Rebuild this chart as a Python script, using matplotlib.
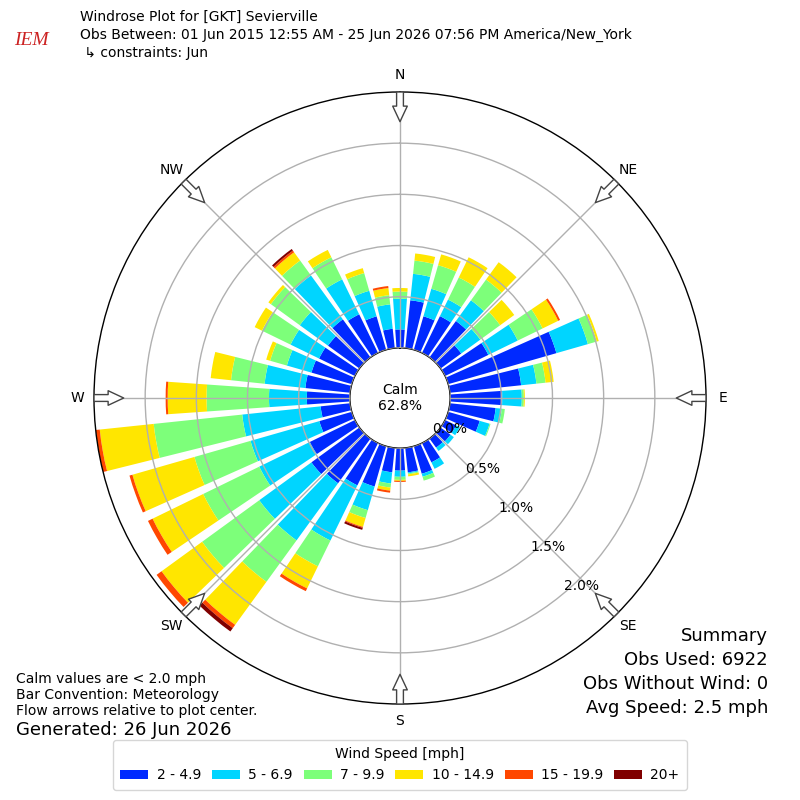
import numpy as np
import matplotlib
matplotlib.use("Agg")
import matplotlib.pyplot as plt

# wind directions (deg, meteorological) and percent frequency per speed class
directions = np.arange(0, 360, 10)
speed_labels = ["2 - 4.9", "5 - 6.9", "7 - 9.9", "10 - 14.9", "15 - 19.9", "20+"]

spd_2_5 = [0.18, 0.47, 0.34, 0.40, 0.44, 0.25, 0.47, 1.10, 0.70, 0.51, 0.45, 0.32,
           0.12, 0.12, 0.11, 0.21, 0.28, 0.24, 0.22, 0.24, 0.41, 0.46, 0.54, 0.58,
           0.49, 0.33, 0.29, 0.42, 0.44, 0.41, 0.39, 0.38, 0.46, 0.42, 0.34, 0.19]
spd_5_7 = [0.30, 0.26, 0.28, 0.18, 0.25, 0.23, 0.32, 0.32, 0.15, 0.19, 0.06, 0.10,
           0.04, 0.04, 0.04, 0.07, 0.03, 0.01, 0.06, 0.11, 0.24, 0.60, 0.69, 0.63,
           0.55, 0.70, 0.77, 0.37, 0.40, 0.25, 0.31, 0.34, 0.53, 0.38, 0.26, 0.24]
spd_7_10 = [0.07, 0.13, 0.24, 0.24, 0.25, 0.24, 0.27, 0.09, 0.09, 0.02, 0.03, 0.01,
            0.00, 0.00, 0.00, 0.00, 0.04, 0.01, 0.03, 0.04, 0.08, 0.28, 0.50, 0.69,
            0.61, 0.57, 0.87, 0.61, 0.33, 0.17, 0.31, 0.35, 0.18, 0.24, 0.18, 0.09]
spd_10_15 = [0.035, 0.07, 0.11, 0.22, 0.21, 0.17, 0.17, 0.02, 0.08, 0.01, 0.00, 0.00,
             0.00, 0.00, 0.00, 0.00, 0.00, 0.02, 0.01, 0.03, 0.09, 0.24, 0.52, 0.49,
             0.55, 0.63, 0.53, 0.38, 0.20, 0.04, 0.08, 0.03, 0.10, 0.08, 0.05, 0.07]
spd_15_20 = [0.0, 0.0, 0.0, 0.0, 0.0, 0.0, 0.02, 0.0, 0.0, 0.0, 0.0, 0.0,
             0.0, 0.0, 0.0, 0.0, 0.0, 0.0, 0.01, 0.02, 0.01, 0.03, 0.04, 0.06,
             0.05, 0.03, 0.04, 0.02, 0.0, 0.0, 0.0, 0.0, 0.02, 0.0, 0.0, 0.02]
spd_20p = [0.0, 0.0, 0.0, 0.0, 0.0, 0.0, 0.0, 0.0, 0.0, 0.0, 0.0, 0.0,
           0.0, 0.0, 0.0, 0.0, 0.0, 0.0, 0.0, 0.0, 0.02, 0.0, 0.04, 0.0,
           0.0, 0.0, 0.0, 0.0, 0.0, 0.0, 0.0, 0.0, 0.02, 0.0, 0.0, 0.0]

calm_pct = 62.8
rings = [0, 0.5, 1.0, 1.5, 2.0]
compass = ["N", "NE", "E", "SE", "S", "SW", "W", "NW"]

series = [spd_2_5, spd_5_7, spd_7_10, spd_10_15, spd_15_20, spd_20p]
colors = plt.cm.jet(np.linspace(0, 1, 7))[1:]

fig = plt.figure(figsize=(8, 8), dpi=100)
ax = fig.add_axes([0.1175, 0.12, 0.765, 0.765], projection="polar")
ax.set_theta_zero_location("N")
ax.set_theta_direction(-1)

theta = np.deg2rad(directions)
bottom = np.zeros(len(directions))
handles = []
for vals, c, lab in zip(series, colors, speed_labels):
    vals = np.array(vals)
    b = ax.bar(theta, vals, width=np.deg2rad(8), bottom=bottom, color=c,
               linewidth=0, label=lab, zorder=2)
    handles.append(b)
    bottom = bottom + vals

ax.set_ylim(0, 2.5)
ax.set_rorigin(-0.49)
ax.set_axisbelow(False)
ax.set_rgrids(rings, labels=["%.1f%%" % r for r in rings], angle=140, fontsize=10)
ax.set_thetagrids(np.arange(0, 360, 45), labels=[""] * 8)
ax.grid(True, color="#b0b0b0", linewidth=1, zorder=3)
for sp in ax.spines.values():
    sp.set_color("black")
    sp.set_linewidth(1)

# direction labels and inward flow arrows
for i, name in enumerate(compass):
    t = np.deg2rad(i * 45)
    ax.text(t, 2.665, name, ha="center", va="center", fontsize=10, clip_on=False)
    ax.annotate("", xy=(t, 2.21), xytext=(t, 2.50), xycoords="data",
                arrowprops=dict(arrowstyle="simple,head_length=0.8,head_width=0.75,tail_width=0.35",
                                mutation_scale=14, fc="white", ec="#444444", lw=1,
                                shrinkA=0, shrinkB=0),
                annotation_clip=False, zorder=5)

ax.text(0.5, 0.5, "Calm\n%.1f%%" % calm_pct, transform=ax.transAxes,
        ha="center", va="center", fontsize=10)

# header
fig.text(0.018, 0.944, "IEM", color="#cc2222", fontsize=14, style="italic",
         family="Liberation Serif")
fig.text(0.1, 0.988, "Windrose Plot for [GKT] Sevierville", va="top", fontsize=10)
fig.text(0.1, 0.965, "Obs Between: 01 Jun 2015 12:55 AM - 25 Jun 2026 07:56 PM America/New_York",
         va="top", fontsize=10)
fig.text(0.1, 0.943, " \u21b3 constraints: Jun", va="top", fontsize=10)

# notes
fig.text(0.02, 0.16, "Calm values are < 2.0 mph", va="top", fontsize=10)
fig.text(0.02, 0.14, "Bar Convention: Meteorology", va="top", fontsize=10)
fig.text(0.02, 0.12, "Flow arrows relative to plot center.", va="top", fontsize=10)
fig.text(0.02, 0.099, "Generated: 26 Jun 2026", va="top", fontsize=13)

fig.text(0.96, 0.216, "Summary", ha="right", va="top", fontsize=13)
fig.text(0.96, 0.186, "Obs Used: 6922", ha="right", va="top", fontsize=13)
fig.text(0.96, 0.156, "Obs Without Wind: 0", ha="right", va="top", fontsize=13)
fig.text(0.96, 0.126, "Avg Speed: 2.5 mph", ha="right", va="top", fontsize=13)

fig.legend(handles=handles, loc="lower center", ncol=6, title="Wind Speed [mph]",
           bbox_to_anchor=(0.5, 0.0125), borderaxespad=0, fontsize=10,
           title_fontsize=10, columnspacing=0.8, handletextpad=0.6, borderpad=0.55)

fig.savefig("out.png", dpi=100)
